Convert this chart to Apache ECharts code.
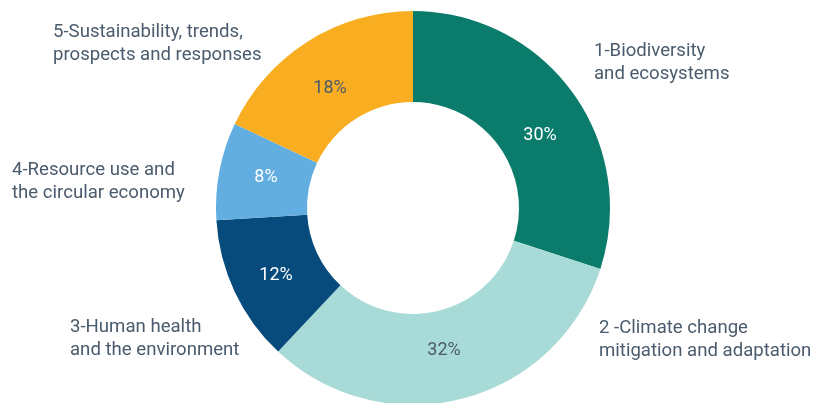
<!DOCTYPE html>
<html>
<head>
<meta charset="utf-8">
<script src="https://cdn.jsdelivr.net/npm/echarts@6/dist/echarts.min.js"></script>
<style>
html,body{margin:0;padding:0;background:#fff;}
#chart{width:815px;height:403px;}
</style>
</head>
<body>
<div id="chart"></div>
<script>
// Data
var categories = [
  '1-Biodiversity\nand ecosystems',
  '2 -Climate change\nmitigation and adaptation',
  '3-Human health\nand the environment',
  '4-Resource use and\nthe circular economy',
  '5-Sustainability, trends,\nprospects and responses'
];
var shares = [30, 32, 12, 8, 18];

// Styles
var sliceColors = ['#0b7c6b', '#a8dbd7', '#064b7c', '#62aee0', '#f9ae22'];
var pctColors = ['#ffffff', '#4a5b6d', '#ffffff', '#ffffff', '#4a5b6d'];
var textColor = '#4a5b6d';
// label layout positions (pixels)
var nameLabelPos = [[594, 63], [599, 340], [70, 339], [12, 182], [53, 44]];
var pctLabelPos = [[540, 135], [444, 350], [276, 275], [266, 177], [330, 88]];

var chart = echarts.init(document.getElementById('chart'), null, {renderer: 'canvas'});

var pctData = shares.map(function (v, i) {
  return {
    name: categories[i],
    value: v,
    itemStyle: {color: sliceColors[i]},
    label: {color: pctColors[i]}
  };
});
var nameData = shares.map(function (v, i) {
  return {name: categories[i], value: v};
});

chart.setOption({
  animation: false,
  backgroundColor: '#ffffff',
  series: [
    {
      type: 'pie',
      center: [413, 208],
      radius: [106, 197],
      startAngle: 90,
      clockwise: true,
      avoidLabelOverlap: false,
      silent: true,
      itemStyle: {borderWidth: 0},
      label: {
        show: true,
        position: 'inside',
        formatter: '{c}%',
        fontFamily: 'Roboto',
        fontSize: 18
      },
      labelLine: {show: false},
      labelLayout: function (p) {
        var pos = pctLabelPos[p.dataIndex];
        return {x: pos[0], y: pos[1], align: 'center', verticalAlign: 'middle'};
      },
      data: pctData
    },
    {
      type: 'pie',
      center: [413, 208],
      radius: [106, 197],
      startAngle: 90,
      clockwise: true,
      avoidLabelOverlap: false,
      silent: true,
      itemStyle: {color: 'rgba(0,0,0,0)', borderWidth: 0},
      label: {
        show: true,
        position: 'outside',
        formatter: '{b}',
        fontFamily: 'Roboto',
        fontSize: 18.6,
        lineHeight: 23,
        color: textColor,
        align: 'left'
      },
      labelLine: {show: false},
      labelLayout: function (p) {
        var pos = nameLabelPos[p.dataIndex];
        return {x: pos[0], y: pos[1], align: 'left', verticalAlign: 'middle'};
      },
      data: nameData
    }
  ]
});
</script>
</body>
</html>
